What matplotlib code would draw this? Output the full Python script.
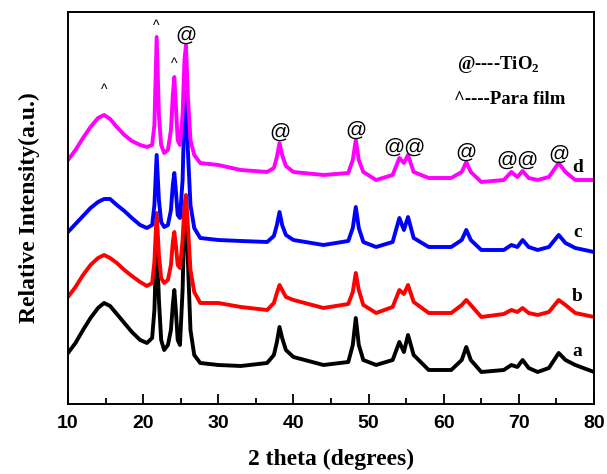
import matplotlib
matplotlib.use('Agg')
import matplotlib.pyplot as plt
from matplotlib.ticker import MultipleLocator

theta = [10, 11, 12, 13, 14, 14.8, 15.6, 16.5, 17.5, 18.5,
         19.6, 20.5, 21.2, 21.5, 21.8, 22.1, 22.4, 22.8, 23.3, 23.7,
         23.95, 24.15, 24.35, 24.6, 24.9, 25.25, 25.5, 25.7, 25.95, 26.3,
         26.8, 27.6, 30, 33, 36.5, 37.4, 37.8, 38.15, 38.5, 39.0,
         40, 44, 47.3, 47.9, 48.3, 48.7, 49.3, 51, 53.2, 54.1,
         54.7, 55.25, 56, 58, 61, 62.4, 63.0, 63.6, 65, 68,
         69.0, 69.8, 70.5, 71.3, 72.5, 74, 75.3, 76.2, 77.5, 80]

# relative intensities (stacked, arbitrary units)
int_a = [51, 61, 74, 86, 96, 101, 98, 90, 81, 72,
         64, 61, 66, 94, 166, 104, 64, 54, 59, 74,
         99, 114, 94, 64, 59, 114, 189, 204, 144, 74,
         49, 41, 39, 38, 41, 49, 62, 77, 66, 54,
         47, 39, 42, 59, 86, 59, 44, 39, 44, 62,
         52, 69, 49, 34, 34, 44, 57, 44, 32, 34,
         39, 37, 44, 36, 32, 36, 51, 44, 39, 32]
int_b = [107, 117, 129, 139, 146, 149, 146, 141, 134, 128,
         122, 118, 121, 142, 191, 149, 126, 121, 124, 139,
         162, 172, 159, 139, 136, 164, 199, 209, 179, 134,
         112, 101, 101, 97, 94, 101, 111, 119, 114, 107,
         104, 96, 100, 112, 131, 114, 99, 91, 97, 114,
         110, 119, 102, 91, 91, 99, 104, 99, 87, 90,
         94, 92, 96, 91, 89, 92, 104, 99, 91, 87]
int_c = [172, 180, 188, 196, 202, 205, 205, 199, 193, 186,
         179, 176, 179, 199, 249, 204, 182, 177, 179, 194,
         219, 231, 214, 189, 186, 224, 294, 312, 254, 199,
         176, 166, 164, 163, 162, 168, 179, 192, 179, 169,
         164, 159, 163, 176, 197, 176, 162, 157, 162, 186,
         174, 187, 166, 157, 157, 164, 174, 164, 154, 154,
         159, 157, 164, 157, 154, 157, 169, 161, 156, 152]
int_d = [244, 254, 266, 277, 286, 289, 285, 277, 269, 263,
         259, 257, 259, 279, 367, 289, 259, 251, 254, 274,
         309, 327, 299, 264, 259, 289, 344, 359, 309, 264,
         249, 241, 239, 234, 232, 236, 247, 261, 249, 238,
         232, 229, 231, 244, 264, 244, 232, 224, 229, 246,
         241, 249, 232, 226, 226, 232, 242, 232, 222, 224,
         232, 227, 233, 226, 224, 227, 241, 232, 224, 224]

series = [('a', int_a, 'black'), ('b', int_b, 'red'),
          ('c', int_c, 'blue'), ('d', int_d, 'magenta')]

# peak markers
para_peaks = [14.8, 21.8, 24.1]
tio2_peaks = [25.7, 38.2, 48.3, 54.8, 63.0, 69.8, 75.3]

serif = 'Liberation Serif'
sans = 'Liberation Sans'
plt.rcParams['mathtext.fontset'] = 'custom'
plt.rcParams['mathtext.rm'] = serif
plt.rcParams['mathtext.bf'] = serif + ':bold'

fig = plt.figure(figsize=(6.07, 4.74), dpi=100)
ax = fig.add_axes([0.112, 0.1477, 0.8666, 0.827])

for name, vals, col in series:
    ax.plot(theta, vals, color=col, lw=2.8)

ax.set_xlim(10, 80)
ax.set_ylim(0, 392)
ax.set_yticks([])
ax.xaxis.set_major_locator(MultipleLocator(10))
ax.xaxis.set_minor_locator(MultipleLocator(5))
ax.tick_params(axis='x', which='major', direction='in', length=7, width=1.3,
               pad=8, labelsize=14)
ax.tick_params(axis='x', which='minor', direction='in', length=4, width=1.3)
for lab in ax.get_xticklabels():
    lab.set_fontfamily(sans)
    lab.set_fontweight('bold')
for sp in ax.spines.values():
    sp.set_linewidth(1.4)

ax.set_xlabel('2 theta (degrees)', fontfamily=serif, fontweight='bold',
              fontsize=17, labelpad=12)
ax.set_ylabel('Relative Intensity(a.u.)', fontfamily=serif, fontweight='bold',
              fontsize=17, labelpad=20)

# curve letters on the right
for (name, vals, col), yy in zip(series, [52, 107, 171, 236]):
    ax.text(77.8, yy, name, fontfamily=serif, fontweight='bold', fontsize=14,
            ha='center', va='center')

# ^ markers for para film
for xp, yy in zip(para_peaks, [314, 378, 340]):
    ax.text(xp, yy, '^', fontfamily=sans, fontsize=10, ha='center', va='center')

# @ markers for TiO2
at_labels = ['@', '@', '@', '@@', '@', '@@', '@']
at_y = [369, 272, 274, 257, 252, 244, 250]
for xp, lab, yy in zip(tio2_peaks, at_labels, at_y):
    ax.text(xp, yy, lab, fontfamily=sans, fontsize=15, ha='center', va='center')

ax.text(61.8, 339, '@----TiO$_\\mathbf{2}$', fontfamily=serif, fontweight='bold',
        fontsize=13.5, ha='left', va='center')
ax.text(61.4, 304, '^----Para film', fontfamily=serif, fontweight='bold',
        fontsize=13.5, ha='left', va='center')

fig.savefig('out.png', dpi=100)
